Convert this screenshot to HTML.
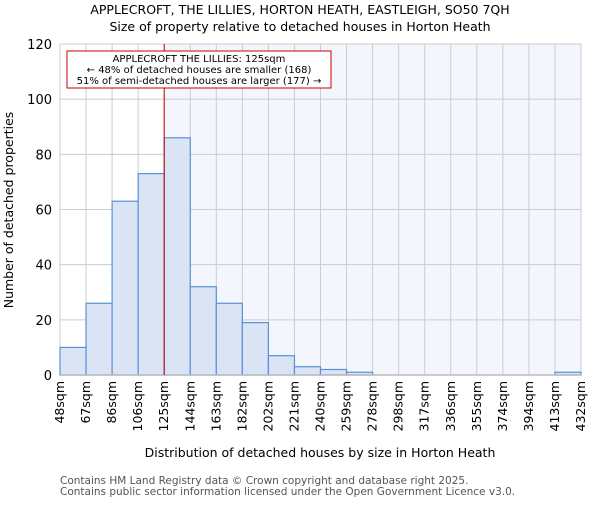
<!DOCTYPE html>
<html><head><meta charset="utf-8"><style>body{margin:0;background:#fff}svg{font-family:"DejaVu Sans","Liberation Sans",sans-serif}</style></head>
<body>
<svg id="chart" width="600" height="500" xmlns="http://www.w3.org/2000/svg">
<text x="300" y="14" text-anchor="middle" font-size="12.5">APPLECROFT, THE LILLIES, HORTON HEATH, EASTLEIGH, SO50 7QH</text>
<text x="300" y="31" text-anchor="middle" font-size="12.5">Size of property relative to detached houses in Horton Heath</text>
<g id="plot"></g>
<text transform="translate(13,210) rotate(-90)" text-anchor="middle" font-size="12.5">Number of detached properties</text>
<text x="320" y="457" text-anchor="middle" font-size="12.5">Distribution of detached houses by size in Horton Heath</text>
<text x="60" y="484" font-size="10.5" fill="#555">Contains HM Land Registry data © Crown copyright and database right 2025.</text>
<text x="60" y="495" font-size="10.5" fill="#555">Contains public sector information licensed under the Open Government Licence v3.0.</text>
</svg>
<script>
const categories=["48sqm","67sqm","86sqm","106sqm","125sqm","144sqm","163sqm","182sqm","202sqm","221sqm","240sqm","259sqm","278sqm","298sqm","317sqm","336sqm","355sqm","374sqm","394sqm","413sqm","432sqm"];
const counts=[10,26,63,73,86,32,26,19,7,3,2,1,0,0,0,0,0,0,0,1];
const yTicks=[0,20,40,60,80,100,120];
const markerIndex=4;
const NS="http://www.w3.org/2000/svg";
const g=document.getElementById('plot');
const X0=60,X1=581,Y0=375,Y1=44,YMAX=120,N=counts.length;
const bw=(X1-X0)/N;
const xs=i=>X0+i*bw;
const ys=v=>Y0-(v/YMAX)*(Y0-Y1);
function mk(t,a){const e=document.createElementNS(NS,t);for(const k in a)e.setAttribute(k,a[k]);g.appendChild(e);return e;}
let bg=mk('rect',{x:xs(markerIndex),y:Y1,width:X1-xs(markerIndex),height:Y0-Y1,fill:'#f4f6fd'});


for(let i=0;i<=N;i++){let l=mk('line',{x1:xs(i),x2:xs(i),y1:Y1,y2:Y0,stroke:'#cccccc','stroke-width':1});

}
yTicks.forEach(v=>{let l=mk('line',{x1:X0,x2:X1,y1:ys(v),y2:ys(v),stroke:'#cccccc','stroke-width':1});


let t=mk('text',{x:X0-8,y:ys(v)+5,'text-anchor':'end','font-size':13});t.textContent=v;

});
counts.forEach((c,i)=>{let r=mk('rect',{x:xs(i),y:ys(c),width:bw,height:Y0-ys(c),fill:'#dae4f4',stroke:'#5b8fd6','stroke-width':1.2});

});
categories.forEach((c,i)=>{let t=mk('text',{transform:`translate(${xs(i)+4},381) rotate(-90)`,'text-anchor':'end','font-size':12.5});t.textContent=c;

});
let ax=mk('line',{x1:X0,x2:X1,y1:Y0,y2:Y0,stroke:'#bbbbbb','stroke-width':1.5});


let ml=mk('line',{x1:xs(markerIndex),x2:xs(markerIndex),y1:Y1,y2:Y0,stroke:'#cc0000','stroke-width':1});


let box=mk('rect',{x:67,y:51,width:264,height:37,fill:'#fff',stroke:'#cc0000','stroke-width':1});


["APPLECROFT THE LILLIES: 125sqm","← 48% of detached houses are smaller (168)","51% of semi-detached houses are larger (177) →"].forEach((s,k)=>{let t=mk('text',{x:199,y:62+k*11,'text-anchor':'middle','font-size':10});t.textContent=s;

});
</script>
</body></html>
